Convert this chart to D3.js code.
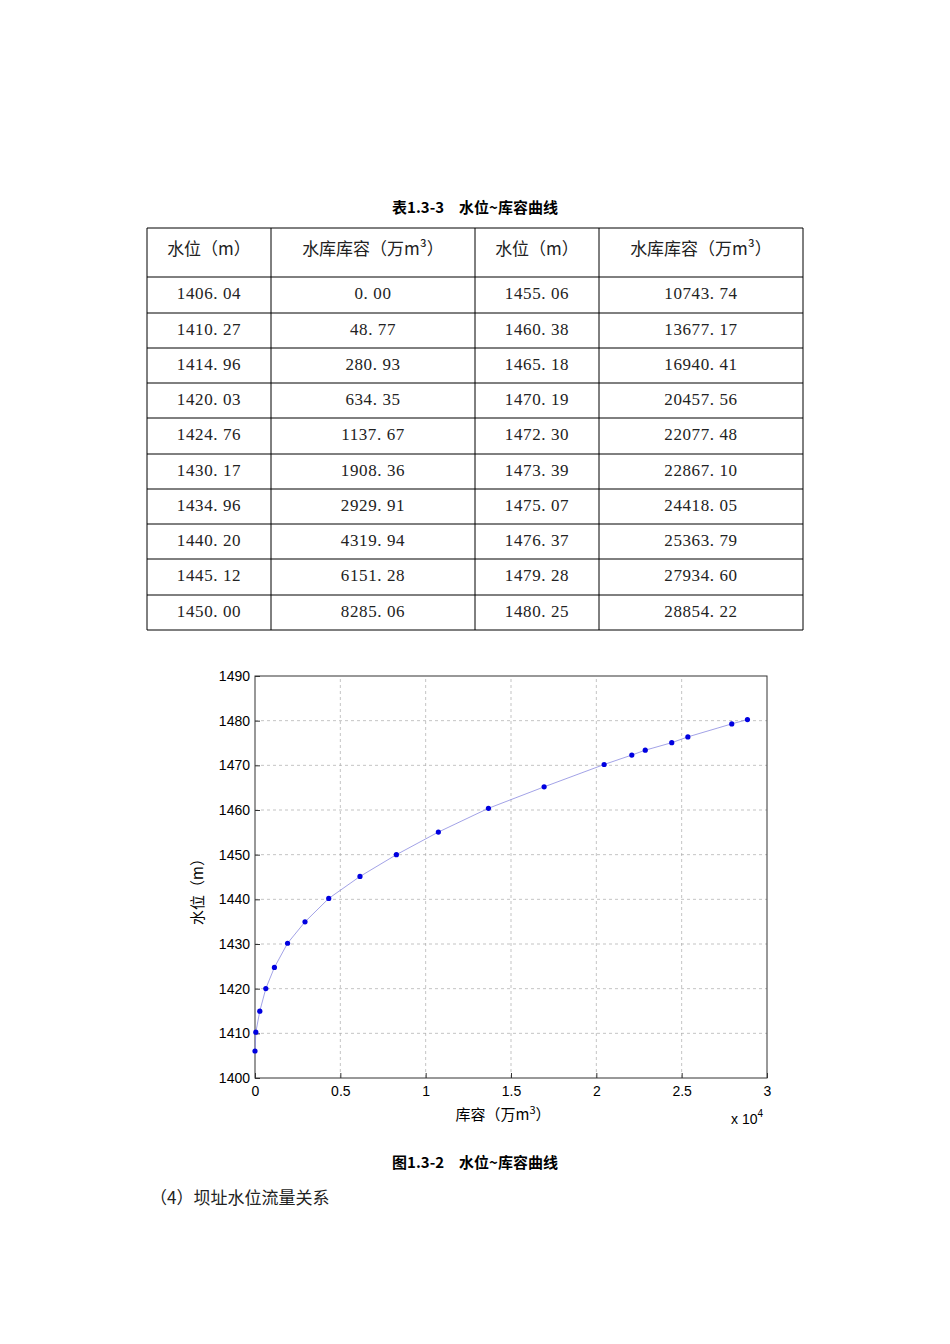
<!DOCTYPE html>
<html><head><meta charset="utf-8">
<script src="https://cdn.jsdelivr.net/npm/d3@7"></script>
<style>body{margin:0;background:#fff}</style>
</head><body>
<script>
const levels = [1406.04,1410.27,1414.96,1420.03,1424.76,1430.17,1434.96,1440.20,1445.12,1450.00,
                1455.06,1460.38,1465.18,1470.19,1472.30,1473.39,1475.07,1476.37,1479.28,1480.25];
const volumes = [0.00,48.77,280.93,634.35,1137.67,1908.36,2929.91,4319.94,6151.28,8285.06,
                 10743.74,13677.17,16940.41,20457.56,22077.48,22867.10,24418.05,25363.79,27934.60,28854.22];
const xTicks = [0,0.5,1,1.5,2,2.5,3];
const yTicks = [1400,1410,1420,1430,1440,1450,1460,1470,1480,1490];

const W = 950, H = 1344;
const serif = "'Liberation Serif','DejaVu Serif','Noto Sans CJK SC',serif";
const cjk = "'Noto Sans CJK SC',sans-serif";
const svg = d3.select("body").append("svg").attr("width", W).attr("height", H);

// table title
svg.append("text").attr("x", 475).attr("y", 213).attr("text-anchor", "middle")
  .attr("font-family", cjk).attr("font-weight", "bold").attr("font-size", 15)
  .text("表1.3-3　水位~库容曲线");

// table
const colX = [147, 271, 475, 599, 803];
const rowY = [228, 277, 313, 348, 383, 418, 454, 489, 524, 559, 595, 630];
const tb = svg.append("g").attr("stroke", "#000").attr("stroke-width", 1);
colX.forEach(x => tb.append("line").attr("x1", x).attr("x2", x).attr("y1", rowY[0]).attr("y2", rowY[rowY.length-1]));
rowY.forEach(y => tb.append("line").attr("x1", colX[0]).attr("x2", colX[4]).attr("y1", y).attr("y2", y));

const headers = ["水位（m）", "水库库容（万m³）", "水位（m）", "水库库容（万m³）"];
headers.forEach((h, i) => {
  svg.append("text").attr("x", (colX[i]+colX[i+1])/2).attr("y", 255)
    .attr("text-anchor", "middle").attr("font-family", cjk).attr("font-size", 17).attr("fill", "#222")
    .text(h);
});
const fmt = d3.format(".2f");
for (let r = 0; r < 10; r++) {
  const cells = [fmt(levels[r]), fmt(volumes[r]), fmt(levels[r+10]), fmt(volumes[r+10])];
  cells.forEach((c, i) => {
    svg.append("text").attr("x", (colX[i]+colX[i+1])/2).attr("y", (rowY[r+1]+rowY[r+2])/2 + 4)
      .attr("text-anchor", "middle").attr("font-family", serif).attr("font-size", 17)
      .attr("letter-spacing", 0.6).attr("fill", "#222").text(c.replace(".", ". "));
  });
}

// chart
const x = d3.scaleLinear().domain([0, 3]).range([255, 767]);
const y = d3.scaleLinear().domain([1400, 1490]).range([1078, 676]);
const g = svg.append("g");
g.selectAll(".gx").data(xTicks.slice(1, -1)).enter().append("line")
  .attr("x1", d => x(d)).attr("x2", d => x(d)).attr("y1", y(1400)).attr("y2", y(1490))
  .attr("stroke", "#aaa").attr("stroke-dasharray", "3,3").attr("stroke-width", 0.7);
g.selectAll(".gy").data(yTicks.slice(1, -1)).enter().append("line")
  .attr("x1", x(0)).attr("x2", x(3)).attr("y1", d => y(d)).attr("y2", d => y(d))
  .attr("stroke", "#aaa").attr("stroke-dasharray", "3,3").attr("stroke-width", 0.7);
g.append("rect").attr("x", x(0)).attr("y", y(1490)).attr("width", x(3)-x(0)).attr("height", y(1400)-y(1490))
  .attr("fill", "none").attr("stroke", "#333").attr("stroke-width", 1);

const ax = g.append("g").attr("transform", `translate(0,${y(1400)})`)
  .call(d3.axisBottom(x).tickValues(xTicks).tickSize(-5).tickPadding(8).tickFormat(d3.format("")));
const ay = g.append("g").attr("transform", `translate(${x(0)},0)`)
  .call(d3.axisLeft(y).tickValues(yTicks).tickSize(-5).tickPadding(5).tickFormat(d3.format("d")));
[ax, ay].forEach(a => {
  a.select(".domain").remove();
  a.selectAll("line").attr("stroke", "#333");
  a.selectAll("text").attr("font-family", "'Liberation Sans',Arial,sans-serif").attr("font-size", 14).attr("fill", "#000");
});

const pts = levels.map((l, i) => [volumes[i] / 1e4, l]);
g.append("path").datum(pts).attr("fill", "none").attr("stroke", "#8a8ae0").attr("stroke-width", 0.8)
  .attr("d", d3.line().x(d => x(d[0])).y(d => y(d[1])));
g.selectAll("circle").data(pts).enter().append("circle")
  .attr("cx", d => x(d[0])).attr("cy", d => y(d[1])).attr("r", 2.6).attr("fill", "#0000e0");

const xl = svg.append("text").attr("x", 503).attr("y", 1120).attr("text-anchor", "middle")
  .attr("font-family", cjk).attr("font-size", 15);
xl.append("tspan").text("库容（万m");
xl.append("tspan").attr("dy", -6).attr("font-size", 11).text("3");
xl.append("tspan").attr("dy", 6).text("）");
const ex = svg.append("text").attr("x", 731).attr("y", 1124).attr("font-family", "'Liberation Sans',sans-serif").attr("font-size", 14);
ex.append("tspan").text("x 10");
ex.append("tspan").attr("dy", -7).attr("font-size", 10).text("4");
svg.append("text").attr("transform", "translate(203,888) rotate(-90)").attr("text-anchor", "middle")
  .attr("font-family", cjk).attr("font-size", 15).text("水位（m）");

svg.append("text").attr("x", 475).attr("y", 1168).attr("text-anchor", "middle")
  .attr("font-family", cjk).attr("font-weight", "bold").attr("font-size", 15)
  .text("图1.3-2　水位~库容曲线");
svg.append("text").attr("x", 150).attr("y", 1204)
  .attr("font-family", cjk).attr("font-size", 17).attr("fill", "#222")
  .text("（4）坝址水位流量关系");
</script>
</body></html>
